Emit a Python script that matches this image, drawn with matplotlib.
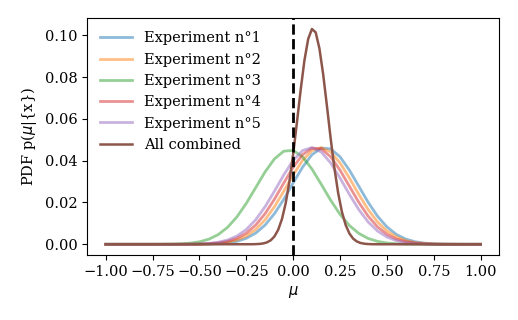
import numpy as np
import matplotlib
matplotlib.use("Agg")
import matplotlib.pyplot as plt

plt.rcParams["font.family"] = "DejaVu Serif"
plt.rcParams["font.size"] = 10.5

# grid for the single experiments
mu = np.linspace(-1.0, 1.0, 41)

exp1 = [0, 0, 0, 0, 0, 0, 0, 0, 0, 0.00001, 0.00004, 0.00011, 0.00027, 0.00065,
        0.00142, 0.00286, 0.00534, 0.00920, 0.01465, 0.02157, 0.02934, 0.03689,
        0.04285, 0.04601, 0.04565, 0.04185, 0.03546, 0.02777, 0.02009, 0.01344,
        0.00830, 0.00474, 0.00250, 0.00122, 0.00055, 0.00023, 0.00009, 0.00003,
        0.00001, 0, 0]
exp2 = [0, 0, 0, 0, 0, 0, 0, 0, 0.00001, 0.00002, 0.00007, 0.00017, 0.00043,
        0.00097, 0.00203, 0.00395, 0.00708, 0.01172, 0.01796, 0.02541, 0.03323,
        0.04015, 0.04484, 0.04628, 0.04414, 0.03891, 0.03169, 0.02385, 0.01659,
        0.01067, 0.00634, 0.00348, 0.00176, 0.00083, 0.00036, 0.00014, 0.00005,
        0.00002, 0.00001, 0, 0]
exp3 = [0, 0, 0, 0, 0, 0.00001, 0.00003, 0.00009, 0.00022, 0.00054, 0.00119,
        0.00244, 0.00463, 0.00811, 0.01312, 0.01961, 0.02711, 0.03462, 0.04086,
        0.04456, 0.04492, 0.04184, 0.03601, 0.02865, 0.02106, 0.01431, 0.00898,
        0.00521, 0.00279, 0.00138, 0.00063, 0.00027, 0.00010, 0.00004, 0.00001,
        0, 0, 0, 0, 0, 0]
exp4 = [0, 0, 0, 0, 0, 0, 0, 0, 0.00001, 0.00004, 0.00011, 0.00027, 0.00065,
        0.00142, 0.00286, 0.00534, 0.00920, 0.01465, 0.02157, 0.02934, 0.03689,
        0.04285, 0.04601, 0.04565, 0.04185, 0.03546, 0.02777, 0.02009, 0.01344,
        0.00830, 0.00474, 0.00250, 0.00122, 0.00055, 0.00023, 0.00009, 0.00003,
        0.00001, 0, 0, 0]
exp5 = [0, 0, 0, 0, 0, 0, 0, 0.00001, 0.00002, 0.00007, 0.00017, 0.00043,
        0.00097, 0.00203, 0.00395, 0.00708, 0.01172, 0.01796, 0.02541, 0.03323,
        0.04015, 0.04484, 0.04628, 0.04414, 0.03891, 0.03169, 0.02385, 0.01659,
        0.01067, 0.00634, 0.00348, 0.00176, 0.00083, 0.00036, 0.00014, 0.00005,
        0.00002, 0.00001, 0, 0, 0]

# combined posterior, finer grid around the peak
mu_comb = [-1.0, -0.22, -0.20, -0.18, -0.16, -0.14, -0.12, -0.10, -0.08, -0.06,
           -0.04, -0.02, 0.00, 0.02, 0.04, 0.06, 0.08, 0.10, 0.12, 0.14, 0.16,
           0.18, 0.20, 0.22, 0.24, 0.26, 0.28, 0.30, 0.32, 0.34, 0.36, 0.38,
           0.40, 0.42, 0.44, 1.0]
comb = [0, 0.00002, 0.00007, 0.00017, 0.00040, 0.00091, 0.00190, 0.00375,
        0.00693, 0.01204, 0.01964, 0.03008, 0.04324, 0.05835, 0.07394, 0.08796,
        0.09823, 0.10300, 0.10138, 0.09369, 0.08129, 0.06621, 0.05063, 0.03635,
        0.02450, 0.01550, 0.00921, 0.00514, 0.00269, 0.00132, 0.00061, 0.00026,
        0.00011, 0.00004, 0.00001, 0]

labels = ["Experiment n°1", "Experiment n°2", "Experiment n°3",
          "Experiment n°4", "Experiment n°5"]

fig = plt.figure(figsize=(5.18, 3.2), dpi=100)
ax = fig.add_axes([0.168, 0.203, 0.796, 0.740])

for i, y in enumerate([exp1, exp2, exp3, exp4, exp5]):
    ax.plot(mu, y, color="C%d" % i, lw=2, alpha=0.5, label=labels[i])
ax.plot(mu_comb, comb, color="C5", lw=1.8, label="All combined")
ax.axvline(0, color="black", ls="--", lw=2)

ax.set_xticks(np.arange(-1.0, 1.01, 0.25))
ax.set_yticks(np.arange(0, 0.101, 0.02))
ax.set_xlabel(r"$\mu$")
ax.set_ylabel(r"PDF p($\mu$|{x})")
ax.legend(loc="upper left", frameon=False, handlelength=2.2)

fig.savefig("out.png", dpi=100)
